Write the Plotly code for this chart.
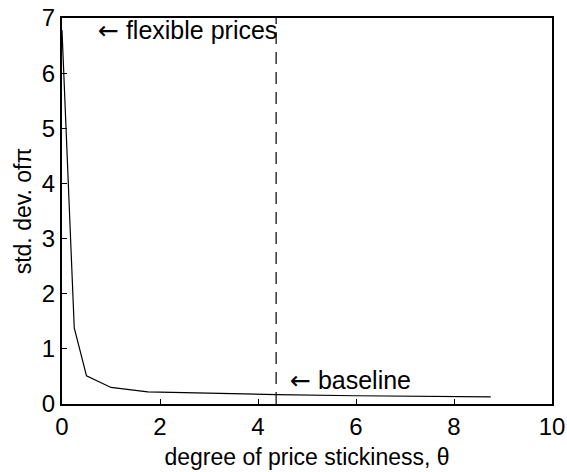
import plotly.graph_objects as go

theta = [0, 0.25, 0.5, 1.0, 1.75, 2.75, 4.37, 6.0, 8.75]
std_pi = [6.78, 1.38, 0.51, 0.30, 0.22, 0.20, 0.17, 0.15, 0.13]
baseline_theta = 4.37
x_ticks = [0, 2, 4, 6, 8, 10]
y_ticks = [0, 1, 2, 3, 4, 5, 6, 7]

FONT = "Liberation Sans, Arial, Helvetica, sans-serif"
ARROW = '<span style="font-family:DejaVu Sans">\u2190</span>'

fig = go.Figure()
fig.add_trace(go.Scatter(x=theta, y=std_pi, mode="lines",
                         line=dict(color="black", width=1.2), showlegend=False))
fig.add_trace(go.Scatter(x=[baseline_theta, baseline_theta], y=[0, 7], mode="lines",
                         line=dict(color="black", width=1.2, dash="12px,8px"), showlegend=False))

fig.add_annotation(x=0.69, y=6.78, text=ARROW + " flexible prices", showarrow=False,
                   xanchor="left", yanchor="middle", font=dict(size=25, color="black", family=FONT))
fig.add_annotation(x=4.62, y=0.42, text=ARROW + " baseline", showarrow=False,
                   xanchor="left", yanchor="middle", font=dict(size=25, color="black", family=FONT))

axis_common = dict(showgrid=False, zeroline=False, showline=True, linecolor="black",
                   linewidth=2, mirror=True, ticks="inside", ticklen=5, tickcolor="black",
                   automargin=False, ticklabeloverflow="allow",
                   tickfont=dict(size=24, color="black", family=FONT))
fig.update_xaxes(range=[0, 10], tickvals=x_ticks,
                 title=dict(text="degree of price stickiness, \u03b8", font=dict(size=23, color="black", family=FONT), standoff=10),
                 **axis_common)
fig.update_yaxes(range=[0, 7], tickvals=y_ticks,
                 title=dict(text="std. dev. of\u03c0", font=dict(size=23, color="black", family=FONT), standoff=4),
                 **axis_common)
fig.update_layout(width=567, height=472, plot_bgcolor="white", paper_bgcolor="white",
                  margin=dict(l=62, r=15, t=18, b=68), font=dict(family=FONT, color="black"))
fig.write_html("out.html", config={"displayModeBar": False},
               post_script="document.body.style.margin='0';document.body.style.overflow='hidden';")
